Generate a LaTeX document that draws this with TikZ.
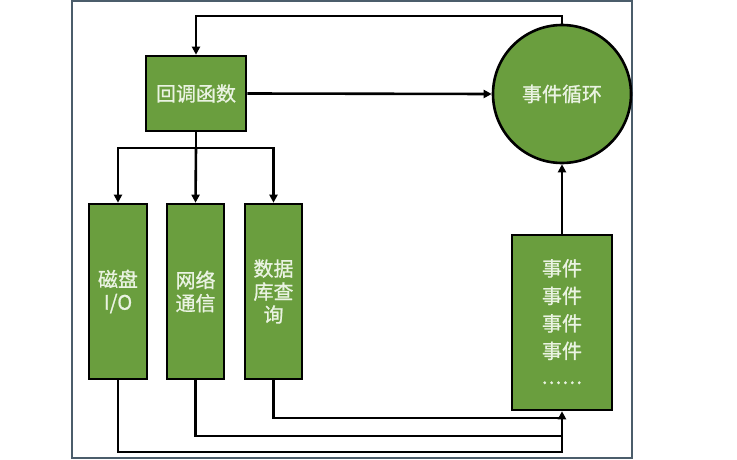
\documentclass[tikz,border=0pt]{standalone}
\usepackage{fontspec}
\newfontfamily\cjk[BoldFont={Noto Sans CJK SC},BoldFeatures={FakeBold=0.9}]{Noto Sans CJK SC}
\usetikzlibrary{arrows.meta}
\definecolor{boxgreen}{HTML}{6A9E3E}
\definecolor{txt}{HTML}{EAF3E2}
\definecolor{frame}{HTML}{4B5D6B}
\newcommand{\evdots}{\makebox[40pt][s]{.\hfil.\hfil.\hfil.\hfil.\hfil.}}
\begin{document}
\begin{tikzpicture}[x=1pt,y=-1pt,
  gbox/.style={draw=black,line width=2.6pt,fill=boxgreen,inner sep=0pt,
    font=\cjk\bfseries\fontsize{20}{23}\selectfont,text=txt,align=center},
  conn/.style={line width=2.6pt,draw=black},
  arr/.style={conn,-{Triangle[length=8pt,width=8pt]}}]
\useasboundingbox (0,0) rectangle (737,460);
\draw[frame,line width=2.4pt] (72,1) rectangle (632,458);
\node[gbox,minimum width=100pt,minimum height=75pt] (cb) at (196,93.5) {回调函数};
\node[gbox,circle,minimum size=138pt] (loop) at (562,94) {事件循环};
\node[gbox,minimum width=58pt,minimum height=175pt] (disk) at (118,291.5) {磁盘\\I/O};
\node[gbox,minimum width=57pt,minimum height=175pt] (net) at (195.5,291.5) {网络\\通信};
\node[gbox,minimum width=57pt,minimum height=175pt] (db) at (273.5,291.5) {数据\\库查\\询};
\node[gbox,minimum width=100pt,minimum height=175pt,font=\cjk\bfseries\fontsize{20}{27.5}\selectfont] (ev) at (562,322.5) {事件\\事件\\事件\\事件\\\raisebox{2pt}{\evdots}};
\coordinate (top) at (562,16);
\coordinate (split) at (196,148);
\draw[arr] (loop.north) -- (top) -| (cb.north);
\draw[arr] (cb.east) -- (loop.west);
\draw[conn] (cb.south) -- (split);
\draw[arr] (split) -| (disk.north);
\draw[arr] (split) -- (net.north);
\draw[arr] (split) -| (db.north);
\draw[arr] (ev.north) -- (loop.south);
\coordinate (j1) at (562,418);
\coordinate (j2) at (562,436);
\coordinate (j3) at (562,452);
\draw[conn] (disk.south) |- (j3) -- (j2);
\draw[conn] (net.south) |- (j2) -- (j1);
\draw[arr] (db.south) |- (j1) -- (ev.south);
\end{tikzpicture}
\end{document}
